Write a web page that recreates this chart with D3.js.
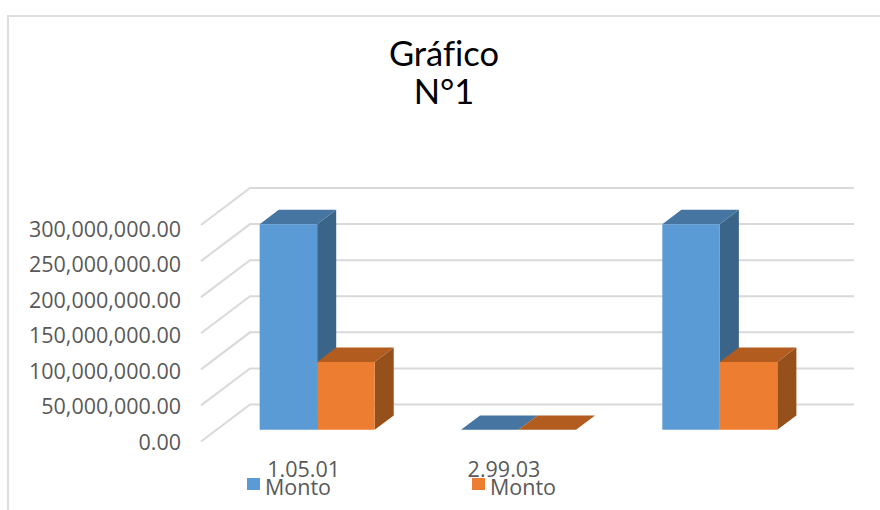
<!DOCTYPE html>
<html>
<head>
<meta charset="utf-8">
<script src="https://cdn.jsdelivr.net/npm/d3@7"></script>
<style>
    html, body { margin: 0; padding: 0; background: #fff; }
    svg { display: block; }
</style>
</head>
<body>
<svg id="chart" width="880" height="510"></svg>
<script>
// values
const categories = ['1.05.01', '2.99.03', ''];
const seriesNames = ['Monto', 'Monto'];
const montoA = [285000000, 0, 285000000];
const montoB = [94000000, 0, 94000000];
const yTicks = [0, 50000000, 100000000, 150000000, 200000000, 250000000, 300000000];
const titleLines = ['Gráfico', 'N°1'];

const frontColors = ['#5B9BD5', '#ED7D31'];
const topColors = ['#4675A1', '#B35C1F'];
const sideColors = ['#3A6488', '#95501B'];
const gridColor = '#D9D9D9';
const textColor = '#595959';

const svg = d3.select('#chart');

// chart frame, only top and left edges show
svg.append('path')
    .attr('d', d3.line()([[8, 510], [8, 16], [880, 16]]))
    .attr('fill', 'none')
    .attr('stroke', '#DEDEDE')
    .attr('stroke-width', 2);

// title
svg.append('g').selectAll('text')
    .data(titleLines)
    .enter().append('text')
    .attr('x', 444)
    .attr('y', (d, i) => 65.5 + i * 38)
    .attr('text-anchor', 'middle')
    .style('font-family', 'Lato, sans-serif')
    .style('font-size', '34.5px')
    .style('font-variant-ligatures', 'none')
    .style('fill', '#000')
    .text(d => d);

// scales for the floor: x along the front, depth going back
const y = d3.scaleLinear().domain([0, 300000000]).range([0, 216.5]);
const x = d3.scaleBand().domain(d3.range(categories.length)).range([201, 805]);
const depth = d3.scaleLinear().domain([0, 1]).range([0, 1]);
const series = d3.scaleBand().domain([0, 1]).range([x.bandwidth() / 2 - 57.5, x.bandwidth() / 2 + 57.5]);

const depthX = 49, depthY = 37;
const barFront = 0.316, barBack = 0.705;

// projects a point (px along x, value, d into the depth) to the screen
const project = (px, v, d) => [px + depth(d) * depthX, 441.5 - y(v) - depth(d) * depthY];

// gridlines: up the left wall, then along the back wall
const grid = d3.line();
svg.append('g').selectAll('path')
    .data(yTicks)
    .enter().append('path')
    .attr('d', d => grid([project(201, d, 0), project(201, d, 1), project(805, d, 1)]))
    .attr('fill', 'none')
    .attr('stroke', gridColor)
    .attr('stroke-width', 2);

// y axis labels
const yLabels = d3.scaleLinear().domain([0, 300000000]).range([442.5, 229.5]);
const axis = svg.append('g')
    .attr('transform', 'translate(181, 0)')
    .call(d3.axisLeft(yLabels)
        .tickValues(yTicks)
        .tickSize(0)
        .tickPadding(0)
        .tickFormat(d3.format(',.2f')));
axis.select('.domain').remove();
axis.selectAll('text')
    .style('font-family', '"Open Sans", sans-serif')
    .style('font-size', '21.5px')
    .style('fill', textColor);

// bars, one group per category with both series
const rows = categories.map((c, i) => ({ c, i, vals: [montoA[i], montoB[i]] }));
const poly = d3.line();
const groups = svg.append('g').selectAll('g')
    .data(rows)
    .enter().append('g');

[0, 1].forEach(s => {
    const faces = groups.append('g');
    const left = d => x(d.i) + series(s);
    const right = d => left(d) + series.bandwidth();
    const val = d => d.vals[s];

    // side
    faces.append('path')
        .attr('d', d => poly([
            project(right(d), 0, barFront), project(right(d), 0, barBack),
            project(right(d), val(d), barBack), project(right(d), val(d), barFront)
        ]) + 'Z')
        .attr('fill', sideColors[s]);
    // top
    faces.append('path')
        .attr('d', d => poly([
            project(left(d), val(d), barFront), project(right(d), val(d), barFront),
            project(right(d), val(d), barBack), project(left(d), val(d), barBack)
        ]) + 'Z')
        .attr('fill', topColors[s]);
    // front
    faces.append('path')
        .attr('d', d => poly([
            project(left(d), 0, barFront), project(right(d), 0, barFront),
            project(right(d), val(d), barFront), project(left(d), val(d), barFront)
        ]) + 'Z')
        .attr('fill', frontColors[s]);
});

// category labels
svg.append('g').selectAll('text')
    .data(rows)
    .enter().append('text')
    .attr('x', d => x(d.i) + x.bandwidth() / 2 + (d.i === 0 ? 2 : 1))
    .attr('y', 477)
    .attr('text-anchor', 'middle')
    .style('font-family', '"Open Sans", sans-serif')
    .style('font-size', '21.5px')
    .style('fill', textColor)
    .text(d => d.c);

// legend
const legendX = d3.scaleOrdinal().domain([0, 1]).range([247, 472]);
const legend = svg.append('g').selectAll('g')
    .data(seriesNames)
    .enter().append('g')
    .attr('transform', (d, i) => `translate(${legendX(i)}, 478)`);
legend.append('rect')
    .attr('width', 13)
    .attr('height', 12)
    .attr('fill', (d, i) => frontColors[i]);
legend.append('text')
    .attr('x', 18)
    .attr('y', 16.5)
    .style('font-family', '"Open Sans", sans-serif')
    .style('font-size', '21.5px')
    .style('fill', textColor)
    .text(d => d);
</script>
</body>
</html>
